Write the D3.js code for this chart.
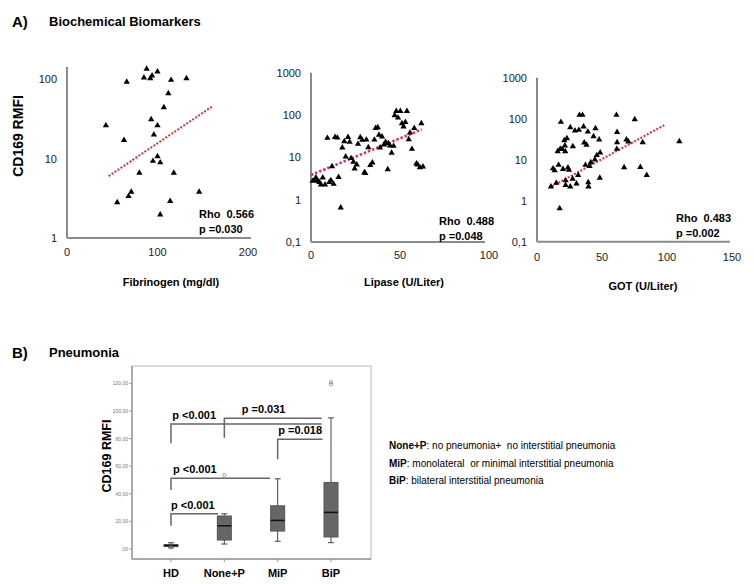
<!DOCTYPE html>
<html><head><meta charset="utf-8">
<script src="https://cdn.jsdelivr.net/npm/d3@7"></script>
<style>body{margin:0;background:#fff}svg{display:block;font-family:"Liberation Sans",Arial,sans-serif}</style>
</head><body>
<svg id="c" width="754" height="584"></svg>
<script>
// ---------- Data ----------
const fibX = [88,100,85,94,92,66,115,132,112,107,93,100,43,96,63,100,95,103,80,118,71,68,146,55.5,114,103];
const fibY = [134,124,104,110,102,92,97,102,66,44,31,26,26,20,17,10.6,9.3,8.9,6.6,6.6,3.8,3.35,3.8,2.8,2.9,1.97];
const fibTrend = [[46,6.0],[160,44.8]];

const lipX = [0.9,1.9,2.8,3.7,4.7,5.6,6.6,7.9,9.2,10.3,11.2,11.8,12.7,13.5,14.8,15.5,16.7,17.6,18.7,19.5,20.8,21.7,22.5,23.8,24.5,25.7,26.4,27.7,28.8,30,31.1,30.5,32.2,33.3,34.5,35.6,36.3,37.5,38.2,38.8,39.9,41,41.9,43.1,43.4,44.4,45.3,46.4,47,47.9,48.9,50.2,51.1,52,53,53.9,54.9,55.6,56.7,58,59.2,59.9,61.2,62,62.9];
const lipY = [2.76,2.9,3.3,2.76,2.6,2.26,3.3,2.26,28.6,2.6,2.86,6.1,2.34,30,29,3.4,0.65,16.9,23.9,10.4,30,23,9.5,7.8,5.4,6.7,20.6,29.7,25.7,4.4,26,4.2,17.2,6.5,7.5,26,49,51,34,17,30.8,20,23,5.2,21.3,18.9,12.7,18.5,98,124,86,124,63.6,53,68,124,26.6,38,15.7,49,7.1,6.7,5.8,63.6,6.0];
const lipTrend = [[0,3.83],[62.2,45.8]];

const gotX = [10.7,12.3,13.6,14.8,15.9,16.6,17.4,17.9,18.4,19.4,20,21,21.5,21.7,22,22,23,23.8,24.6,25.6,25.6,27.4,27.6,29.2,30.4,31.7,32.2,32.7,35,35.8,36.3,37.3,38.1,39.1,39.4,39.6,40.4,41.4,43.5,44.5,45,46,47.8,48.3,48.6,61.1,61.6,61.6,61.4,67,68.8,70.3,75.2,79.5,81.3,84.4,109.5];
const gotY = [2.2,6.1,5.5,2.7,16,7.4,0.65,18.5,83,18,5.9,29.6,22,16,3.1,2.4,33,6.4,5.6,61.5,2.2,3.4,21,51,2.6,4.2,53,123,123,64,26,7.4,23,48,2.8,2.2,6.9,8.6,37,10,58,12.8,30.7,3.6,14.8,123,47,26.5,18.2,6.5,30.7,27.5,96,6.6,26.5,4.2,28];
const gotTrend = [[11.5,2.24],[98.5,71.4]];

const panelTitles = ["Fibrinogen (mg/dl)","Lipase (U/Liter)","GOT (U/Liter)"];
const rhoTexts = ["Rho  0.566","Rho  0.488","Rho  0.483"];
const pTexts = ["p =0.030","p =0.048","p =0.002"];

// Pneumonia boxplots
const groups = ["HD","None+P","MiP","BiP"];
const q1 =      [1.8, 6.5, 13.0, 8.7];
const median =  [2.5, 16.8, 20.7, 26.5];
const q3 =      [3.2, 23.9, 31.3, 48.2];
const whiskLo = [0.8, 3.6, 5.6, 4.6];
const whiskHi = [4.5, 25.5, 50.8, 95.0];
const outliers = [[1.2],[53.5],[],[119.3,120.8]];
const boxTicks = [0,20,40,60,80,100,120];
const boxTickLabels = [",00","20,00","40,00","60,00","80,00","100,00","120,00"];
const sigTests = [
  {a:"HD", b:"BiP", p:"p <0.001"},
  {a:"None+P", b:"BiP", p:"p =0.031"},
  {a:"MiP", b:"BiP", p:"p =0.018"},
  {a:"HD", b:"MiP", p:"p <0.001"},
  {a:"HD", b:"None+P", p:"p <0.001"}
];
const legendKeys = ["None+P","MiP","BiP"];
const legendDescs = [": no pneumonia+  no interstitial pneumonia",": monolateral  or minimal interstitial pneumonia",": bilateral interstitial pneumonia"];

// ---------- Drawing ----------
const svg = d3.select("#c");
const fmtLog = d => d === 0.1 ? "0,1" : String(d);

// Section titles
svg.append("text").attr("x",12).attr("y",27).attr("font-size",15).attr("font-weight","bold").text("A)");
svg.append("text").attr("x",49).attr("y",26).attr("font-size",13).attr("font-weight","bold").text("Biochemical  Biomarkers");
svg.append("text").attr("x",12).attr("y",358).attr("font-size",15).attr("font-weight","bold").text("B)");
svg.append("text").attr("x",49).attr("y",357).attr("font-size",13).attr("font-weight","bold").text("Pneumonia");

// Y title panel A
svg.append("text").attr("transform","translate(23,136) rotate(-90)").attr("text-anchor","middle")
  .attr("font-size",14).attr("font-weight","bold").text("CD169 RMFI");

const panels = [
  {xs: fibX, ys: fibY, trend: fibTrend, xDom:[0,200], xR:[67,248], xEnd:251, xTicks:[0,100,200],
   yDom:[1,100], yR:[238,79], yTop:67, yTicks:[1,10,100], tColor:"#ee2a2a", tDash:"2,1.6", tW:2,
   titleX:171, titleY:286, textX:199, textY:218, lblY:256},
  {xs: lipX, ys: lipY, trend: lipTrend, xDom:[0,100], xR:[311,489], xEnd:485, xTicks:[0,50,100],
   yDom:[0.1,1000], yR:[242,72.7], yTop:72.7, yTicks:[0.1,1,10,100,1000], tColor:"#f5206a", tDash:"2.4,2", tW:2.6,
   titleX:404, titleY:286, textX:439, textY:225, lblY:259},
  {xs: gotX, ys: gotY, trend: gotTrend, xDom:[0,150], xR:[537,732], xEnd:730, xTicks:[0,50,100,150],
   yDom:[0.1,1000], yR:[241.7,77.7], yTop:77.7, yTicks:[0.1,1,10,100,1000], tColor:"#ee2a2a", tDash:"2,1.6", tW:2,
   titleX:643, titleY:290, textX:676, textY:222, lblY:261}
];

panels.forEach((p,i) => {
  const x = d3.scaleLinear().domain(p.xDom).range(p.xR);
  const y = d3.scaleLog().domain(p.yDom).range(p.yR);
  const g = svg.append("g");
  const y0 = p.yR[0];
  // axes
  g.append("line").attr("x1",p.xR[0]).attr("x2",p.xR[0]).attr("y1",y0).attr("y2",p.yTop).attr("stroke","#8a8a8a").attr("stroke-width",2);
  g.append("line").attr("x1",p.xR[0]).attr("x2",p.xEnd).attr("y1",y0).attr("y2",y0).attr("stroke","#8a8a8a").attr("stroke-width",2);
  g.selectAll(".yl").data(p.yTicks).join("text").attr("x",p.xR[0]-10).attr("y",d=>y(d)+4)
    .attr("text-anchor","end").attr("font-size",11).attr("fill","#222").text(fmtLog);
  g.selectAll(".xl").data(p.xTicks).join("text").attr("x",d=>x(d)).attr("y",p.lblY)
    .attr("text-anchor","middle").attr("font-size",11).attr("fill","#222").text(d=>d);
  g.append("text").attr("x",p.titleX).attr("y",p.titleY).attr("text-anchor","middle")
    .attr("font-size",11).attr("font-weight","bold").text(panelTitles[i]);
  // trend
  g.append("path").datum(p.trend).attr("d", d3.line().x(d=>x(d[0])).y(d=>y(d[1])))
    .attr("stroke",p.tColor).attr("stroke-width",p.tW).attr("stroke-dasharray",p.tDash).attr("fill","none");
  // points
  const sym = d3.symbol(d3.symbolTriangle, 17);
  g.selectAll(".pt").data(p.xs.map((v,j)=>[v,p.ys[j]])).join("path")
    .attr("d", sym).attr("transform", d=>`translate(${x(d[0])},${y(d[1])})`).attr("fill","#000");
  // stats
  g.append("text").attr("x",p.textX).attr("y",p.textY).attr("font-size",11).attr("font-weight","bold").attr("xml:space","preserve").style("white-space","pre").text(rhoTexts[i]);
  g.append("text").attr("x",p.textX).attr("y",p.textY+15).attr("font-size",11).attr("font-weight","bold").text(pTexts[i]);
});

// ---------- Panel B boxplot ----------
const bx = d3.scalePoint().domain(groups).range([171,331]);
const by = d3.scaleLinear().domain([0,120]).range([549,383.3]);
const fL=132, fR=371, fT=366, fB=559;
const gb = svg.append("g");
gb.append("rect").attr("x",fL).attr("y",fT).attr("width",fR-fL).attr("height",fB-fT).attr("fill","none").attr("stroke","#c4c4c4").attr("stroke-width",1.2);
gb.append("line").attr("x1",fL).attr("x2",fL).attr("y1",fT).attr("y2",fB).attr("stroke","#999").attr("stroke-width",1.4);
gb.append("line").attr("x1",fL).attr("x2",fR).attr("y1",fB).attr("y2",fB).attr("stroke","#999").attr("stroke-width",1.4);
gb.selectAll(".yt").data(boxTicks).join("line").attr("x1",fL-3).attr("x2",fL).attr("y1",d=>by(d)).attr("y2",d=>by(d)).attr("stroke","#999");
gb.selectAll(".ytl").data(boxTicks).join("text").attr("x",fL-4).attr("y",d=>by(d)+2).attr("text-anchor","end")
  .attr("font-size",5).attr("fill","#777").text((d,i)=>boxTickLabels[i]);
gb.selectAll(".xt").data(groups).join("line").attr("x1",d=>bx(d)).attr("x2",d=>bx(d)).attr("y1",fB).attr("y2",fB+3).attr("stroke","#999");
gb.selectAll(".xtl").data(groups).join("text").attr("x",d=>bx(d)).attr("y",577).attr("text-anchor","middle")
  .attr("font-size",11).attr("font-weight","bold").text(d=>d);
gb.append("text").attr("transform","translate(111,456) rotate(-90)").attr("text-anchor","middle")
  .attr("font-size",12.5).attr("font-weight","bold").text("CD169 RMFI");

const bw = 14, cw = 6;
groups.forEach((gname,i) => {
  const cx = bx(gname);
  gb.append("line").attr("x1",cx).attr("x2",cx).attr("y1",by(whiskLo[i])).attr("y2",by(whiskHi[i])).attr("stroke","#444").attr("stroke-width",1);
  gb.append("line").attr("x1",cx-cw/2).attr("x2",cx+cw/2).attr("y1",by(whiskLo[i])).attr("y2",by(whiskLo[i])).attr("stroke","#444");
  gb.append("line").attr("x1",cx-cw/2).attr("x2",cx+cw/2).attr("y1",by(whiskHi[i])).attr("y2",by(whiskHi[i])).attr("stroke","#444");
  gb.append("rect").attr("x",cx-bw/2).attr("width",bw).attr("y",by(q3[i])).attr("height",by(q1[i])-by(q3[i]))
    .attr("fill","#666").attr("stroke","#555").attr("stroke-width",1);
  gb.append("line").attr("x1",cx-bw/2).attr("x2",cx+bw/2).attr("y1",by(median[i])).attr("y2",by(median[i])).attr("stroke","#111").attr("stroke-width",1.5);
  outliers[i].forEach(v => {
    gb.append("circle").attr("cx",cx).attr("cy",by(v)).attr("r",1.7).attr("fill","none").attr("stroke","#888").attr("stroke-width",0.8);
  });
});

// significance brackets
const sigY = [424, 418.3, 439.3, 478.3, 513.7];
const sigDrop = [443.3, 437.7, 459.3, 490, 525.7];
const sigTextX = [172.3, 241.7, 278.3, 173, 171];
const sigEndX = [321.7, 321.7, 322.5, 270, 218];
sigTests.forEach((s,i) => {
  const xa = bx(s.a);
  gb.append("path").attr("d",`M${xa},${sigDrop[i]}V${sigY[i]}H${sigEndX[i]}`)
    .attr("fill","none").attr("stroke","#666").attr("stroke-width",1.5);
  gb.append("text").attr("x",sigTextX[i]).attr("y",sigY[i]-5).attr("font-size",11).attr("font-weight","bold").text(s.p);
});

// legend
legendKeys.forEach((k,i) => {
  const t = svg.append("text").attr("x",389).attr("y",449+i*17.5).attr("font-size",10).attr("xml:space","preserve");
  t.append("tspan").attr("font-weight","bold").text(k);
  t.append("tspan").text(legendDescs[i]);
});
</script>
</body></html>
